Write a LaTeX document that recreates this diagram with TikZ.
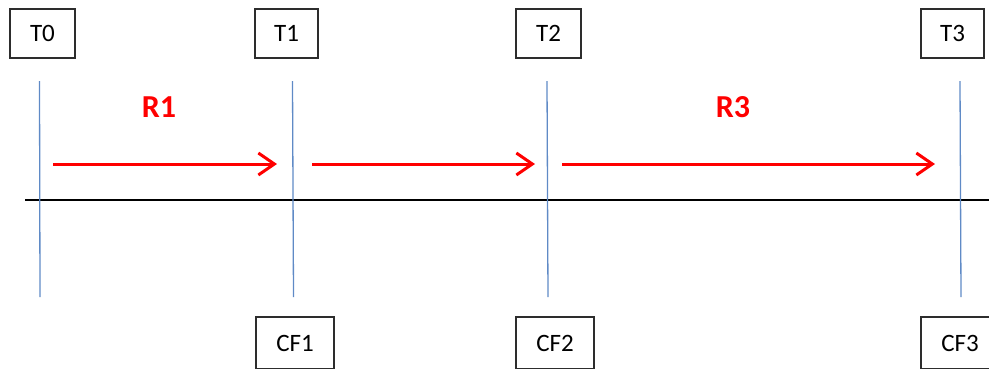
\documentclass[tikz,border=0pt]{standalone}
\usepackage{fontspec}
\setmainfont{Carlito}
\usetikzlibrary{arrows.meta}
\definecolor{tlblue}{RGB}{95,138,198}
\definecolor{boxgray}{RGB}{45,45,45}
\tikzset{
  tbox/.style={draw=boxgray, line width=1.5pt, minimum height=49pt, inner sep=0pt, font=\fontsize{25}{28}\selectfont},
  cfbox/.style={draw=boxgray, line width=1.5pt, minimum width=78pt, minimum height=52pt, inner sep=0pt, font=\fontsize{25}{28}\selectfont},
  tline/.style={draw=tlblue, line width=1.3pt},
  axis/.style={draw=black, line width=1.5pt},
  rarrow/.style={draw=red, line width=3pt, -{Straight Barb[length=16pt,width=22pt,line width=3pt]}},
  rlabel/.style={text=red, font=\fontsize{32}{35}\selectfont\bfseries}
}
\begin{document}
\begin{tikzpicture}[x=1pt,y=-1pt]
\useasboundingbox (0,0) rectangle (989,368);
\clip (0,0) rectangle (989,368);
% top boxes
\node[tbox, minimum width=65pt] (T0) at (42.5,33.5) {T0};
\node[tbox, minimum width=63pt] (T1) at (286.5,33.5) {T1};
\node[tbox, minimum width=65pt] (T2) at (548.5,33.5) {T2};
\node[tbox, minimum width=63pt] (T3) at (952.5,33.5) {T3};
% bottom boxes
\node[cfbox] (CF1) at (295,343) {CF1};
\node[cfbox] (CF2) at (555,343) {CF2};
\node[cfbox] (CF3) at (960,343) {CF3};
% timeline coordinates
\coordinate (v0t) at (39.5,81);  \coordinate (v0b) at (40,297);
\coordinate (v1t) at (292.5,81); \coordinate (v1b) at (293.5,297);
\coordinate (v2t) at (547,81);   \coordinate (v2b) at (548,297);
\coordinate (v3t) at (960,81);   \coordinate (v3b) at (961,297);
\coordinate (axl) at (25,200);   \coordinate (axr) at (989,200);
% horizontal axis
\draw[axis] (axl) -- (axr);
% vertical lines
\draw[tline] (v0t) -- (v0b);
\draw[tline] (v1t) -- (v1b);
\draw[tline] (v2t) -- (v2b);
\draw[tline] (v3t) -- (v3b);
% arrows
\coordinate (a1s) at (53,164);  \coordinate (a1e) at (277,164);
\coordinate (a2s) at (312,164); \coordinate (a2e) at (535,164);
\coordinate (a3s) at (562,164); \coordinate (a3e) at (935,164);
\draw[rarrow] (a1s) -- (a1e);
\draw[rarrow] (a2s) -- (a2e);
\draw[rarrow] (a3s) -- (a3e);
% labels
\node[rlabel] (R1) at (159,107) {R1};
\node[rlabel] (R3) at (733,107) {R3};
\end{tikzpicture}
\end{document}
